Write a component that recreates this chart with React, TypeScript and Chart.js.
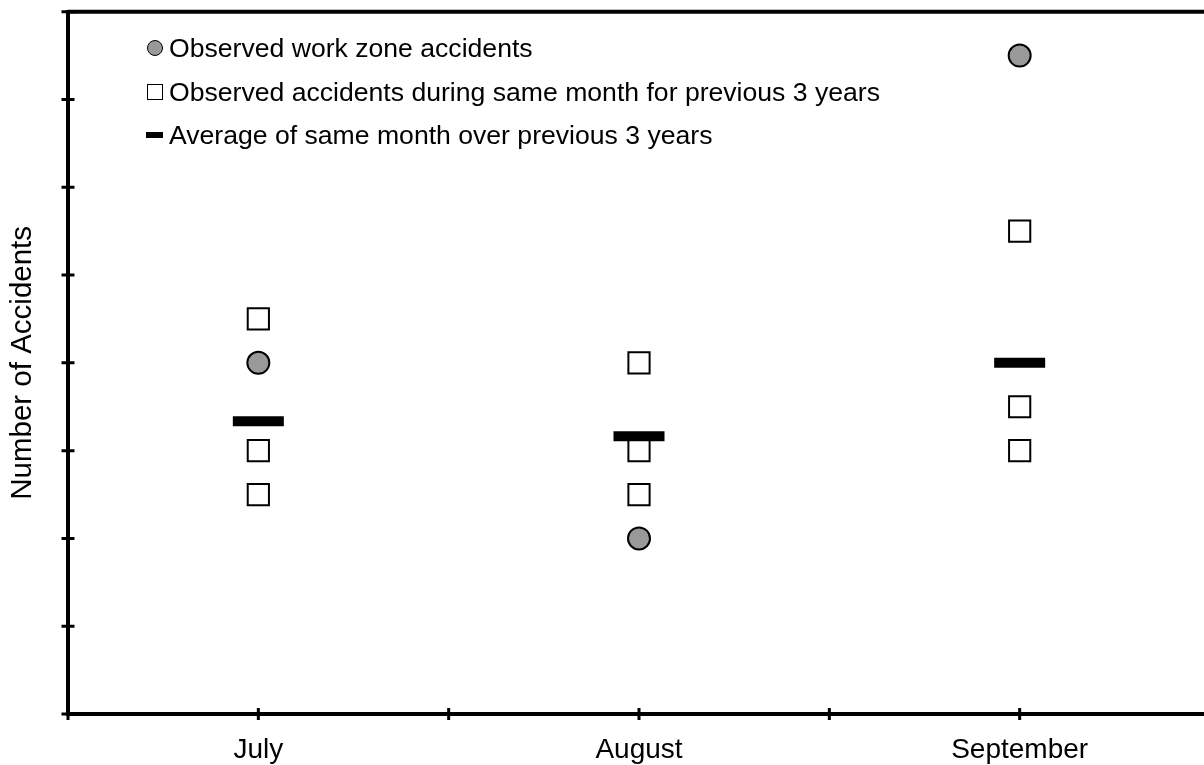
import React, { useEffect, useRef } from 'react';
import { Chart, registerables } from 'chart.js';

Chart.register(...registerables);

// ---- data ----
const months = ['July', 'August', 'September'];
const monthPositions = [1, 2, 3];
const workZoneAccidents = [8, 4, 15];
const prevYearsJuly = [9, 6, 5];
const prevYearsAugust = [8, 6, 5];
const prevYearsSeptember = [11, 7, 6];
const previousYears = [prevYearsJuly, prevYearsAugust, prevYearsSeptember];
const previousAverage = [6.67, 6.33, 8];
const yMin = 0;
const yMax = 16;
const yStep = 2;
const xMin = 0.5;
const xMax = 3.5;
const xStep = 0.5;
const seriesLabels = [
  'Observed work zone accidents',
  'Observed accidents during same month for previous 3 years',
  'Average of same month over previous 3 years',
];
const yTitle = 'Number of Accidents';

const FONT = '"Liberation Sans", Arial, Helvetica, sans-serif';
const GRAY = '#999999';

const axisDecor = {
  id: 'axisDecor',
  afterDraw(chart: any) {
    const { ctx, chartArea, scales } = chart;
    const xs = scales.x;
    const ys = scales.y;
    ctx.save();
    ctx.strokeStyle = '#000';
    ctx.lineWidth = 4;
    ctx.beginPath();
    ctx.moveTo(chartArea.left, chartArea.top);
    ctx.lineTo(chart.width, chartArea.top);
    ctx.stroke();
    ctx.lineWidth = 3;
    ctx.beginPath();
    xs.ticks.forEach((t: any) => {
      const px = xs.getPixelForValue(t.value);
      ctx.moveTo(px, chartArea.bottom - 6);
      ctx.lineTo(px, chartArea.bottom + 6);
    });
    ys.ticks.forEach((t: any) => {
      const py = ys.getPixelForValue(t.value);
      ctx.moveTo(chartArea.left - 6.5, py);
      ctx.lineTo(chartArea.left + 6.5, py);
    });
    ctx.stroke();
    ctx.restore();
  },
};

function ChartView() {
  const ref = useRef<HTMLCanvasElement | null>(null);
  useEffect(() => {
    if (!ref.current) return;
    const prevPoints: { x: number; y: number }[] = [];
    previousYears.forEach((vals, i) => {
      vals.forEach((v) => prevPoints.push({ x: monthPositions[i], y: v }));
    });
    const chart = new Chart(ref.current, {
      type: 'scatter',
      data: {
        datasets: [
          {
            label: seriesLabels[2],
            data: previousAverage.map((v, i) => ({ x: monthPositions[i], y: v })),
            pointStyle: 'line',
            pointRadius: 25.5,
            pointBorderWidth: 10,
            pointBorderColor: '#000',
            pointBackgroundColor: '#000',
          },
          {
            label: seriesLabels[0],
            data: workZoneAccidents.map((v, i) => ({ x: monthPositions[i], y: v })),
            pointStyle: 'circle',
            pointRadius: 11,
            pointBorderWidth: 2,
            pointBorderColor: '#000',
            pointBackgroundColor: GRAY,
          },
          {
            label: seriesLabels[1],
            data: prevPoints,
            pointStyle: 'rect',
            pointRadius: 15,
            pointBorderWidth: 2,
            pointBorderColor: '#000',
            pointBackgroundColor: '#fff',
          },
        ],
      },
      options: {
        responsive: false,
        animation: false,
        events: [],
        layout: { autoPadding: false, padding: { left: 0, top: 11.7, right: 20, bottom: 0 } },
        plugins: { legend: { display: false }, tooltip: { enabled: false } },
        scales: {
          x: {
            type: 'linear',
            min: xMin,
            max: xMax,
            afterFit: (s: any) => {
              s.height = 51;
            },
            ticks: {
              stepSize: xStep,
              autoSkip: false,
              maxRotation: 0,
              padding: 19,
              color: '#000',
              font: { family: FONT, size: 28 },
              callback: (v: any) => {
                const idx = monthPositions.indexOf(Number(v));
                return idx >= 0 ? months[idx] : '';
              },
            },
            grid: { display: false, drawTicks: false },
            border: { display: true, color: '#000', width: 4 },
          },
          y: {
            min: yMin,
            max: yMax,
            afterFit: (s: any) => {
              s.width = 68;
            },
            ticks: { display: false, stepSize: yStep },
            grid: { display: false, drawTicks: false },
            border: { display: true, color: '#000', width: 4 },
            title: {
              display: true,
              text: yTitle,
              color: '#000',
              font: { family: FONT, size: 29.5, lineHeight: 1 },
              padding: { top: 8, bottom: 0 },
            },
          },
        },
      },
      plugins: [axisDecor],
    });
    return () => chart.destroy();
  }, []);
  return <canvas ref={ref} width={1230} height={765} style={{ display: 'block', width: 1230, height: 765 }} />;
}

const legendRow: React.CSSProperties = {
  position: 'absolute',
  left: 0,
  display: 'flex',
  alignItems: 'center',
  height: 30,
  whiteSpace: 'nowrap',
  fontFamily: FONT,
  fontSize: 26.6,
  color: '#000',
};

export default function App() {
  const rows = [
    { y: 48, marker: <div style={{ width: 14, height: 14, borderRadius: '50%', background: GRAY, border: '1.5px solid #000' }} /> },
    { y: 92, marker: <div style={{ width: 14, height: 14, background: '#fff', border: '1.5px solid #000' }} /> },
    { y: 135, marker: <div style={{ width: 17, height: 6, background: '#000' }} /> },
  ];
  const order = [0, 1, 2];
  return (
    <div style={{ position: 'absolute', left: 0, top: 0, width: 1204, height: 765, overflow: 'hidden', background: '#fff' }}>
      <ChartView />
      {rows.map((r, i) => (
        <div key={i} style={{ ...legendRow, left: 146, top: r.y - 15 }}>
          <div style={{ width: 17, display: 'flex', justifyContent: 'center', alignItems: 'center' }}>{r.marker}</div>
          <span style={{ marginLeft: 6 }}>{seriesLabels[order[i]]}</span>
        </div>
      ))}
    </div>
  );
}
